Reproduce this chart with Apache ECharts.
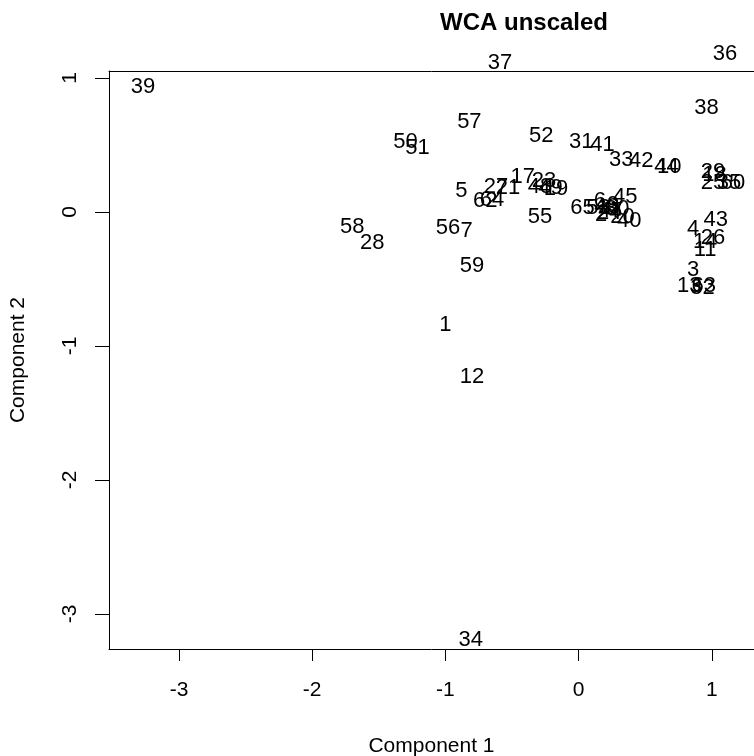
<!DOCTYPE html>
<html>
<head>
<meta charset="utf-8">
<script src="https://cdn.jsdelivr.net/npm/echarts@6/dist/echarts.min.js"></script>
<style>
html,body{margin:0;padding:0;background:#fff;}
#c{width:754px;height:756px;}
</style>
</head>
<body>
<div id="c"></div>
<script>
// Point labels and their coordinates (Component 1, Component 2)
const labels = ["39","37","36","38","57","50","51","52","31","41","33","42","44","10",
  "5","27","21","17","23","48","49","19","62","64","58","28","56","7","59","55","1","12","34",
  "65","6","45","53","46","9","30","2","24","20","40","47",
  "29","18","25","60","35","43","4","26","14","11","3","13","32","63"];
const comp1 = [-3.27,-0.59,1.10,0.96,-0.82,-1.30,-1.21,-0.28,0.02,0.18,0.32,0.47,0.66,0.68,
  -0.88,-0.62,-0.53,-0.42,-0.26,-0.29,-0.21,-0.17,-0.70,-0.65,-1.70,-1.55,-0.98,-0.84,-0.80,-0.29,-1.00,-0.80,-0.81,
  0.03,0.16,0.35,0.15,0.21,0.26,0.29,0.17,0.23,0.33,0.38,0.24,
  1.01,1.02,1.01,1.16,1.13,1.03,0.86,1.01,0.95,0.95,0.86,0.83,0.93,0.94];
const comp2 = [0.93,1.11,1.18,0.78,0.67,0.52,0.48,0.57,0.52,0.50,0.39,0.38,0.34,0.34,
  0.16,0.19,0.18,0.26,0.23,0.19,0.18,0.17,0.08,0.09,-0.11,-0.23,-0.12,-0.14,-0.40,-0.04,-0.84,-1.23,-3.19,
  0.03,0.08,0.11,0.03,0.04,0.05,0.02,-0.02,-0.01,-0.04,-0.07,0.01,
  0.30,0.28,0.22,0.22,0.22,-0.06,-0.13,-0.19,-0.22,-0.28,-0.43,-0.55,-0.57,-0.55];
const xTicks = [-3,-2,-1,0,1];
const yTicks = [-3,-2,-1,0,1];

const FONT = 'Liberation Sans, Arial, sans-serif';
const chart = echarts.init(document.getElementById('c'), null, {renderer:'canvas'});
const data = labels.map((l,i)=>({name:l, value:[comp1[i], comp2[i]]}));
const XMIN = -3.5255, XMAX = 1.317;
chart.setOption({
  animation:false,
  backgroundColor:'#fff',
  graphic:[{type:'text', x:524, y:23, style:{text:'WCA unscaled', font:'bold 24px '+FONT, fill:'#000', textAlign:'center', textVerticalAlign:'middle'}}],
  grid:{left:109, top:71, right:0, height:578, show:false, outerBoundsMode:'none', containLabel:false},
  xAxis:[{type:'value', min:XMIN, max:XMAX, splitLine:{show:false},
    name:'Component 1', nameLocation:'middle', nameGap:87, nameTextStyle:{fontSize:21, fontFamily:FONT, color:'#000'},
    axisLine:{show:true, onZero:false, lineStyle:{color:'#000', width:1}},
    axisTick:{show:true, length:12, lineStyle:{color:'#000'}, customValues:xTicks},
    axisLabel:{fontSize:21, fontFamily:FONT, color:'#000', margin:31, customValues:xTicks, formatter:v=>String(v)}},
    {type:'value', position:'top', min:XMIN, max:XMAX, splitLine:{show:false},
    axisLine:{show:true, onZero:false, lineStyle:{color:'#000', width:1}},
    axisTick:{show:false}, axisLabel:{show:false}}],
  yAxis:{type:'value', min:-3.261, max:1.0522, splitLine:{show:false},
    name:'Component 2', nameLocation:'middle', nameGap:80, nameRotate:90, nameTextStyle:{fontSize:21, fontFamily:FONT, color:'#000'},
    axisLine:{show:true, onZero:false, lineStyle:{color:'#000', width:1}},
    axisTick:{show:true, length:14, lineStyle:{color:'#000'}, customValues:yTicks},
    axisLabel:{fontSize:21, fontFamily:FONT, color:'#000', margin:28, rotate:90, customValues:yTicks, formatter:v=>String(v)}},
  series:[{type:'scatter', data:data, symbolSize:0, clip:false, silent:true,
    itemStyle:{opacity:1},
    label:{show:true, position:'inside', formatter:p=>p.name, color:'#000', fontSize:22, fontFamily:FONT}}]
});
</script>
</body>
</html>
